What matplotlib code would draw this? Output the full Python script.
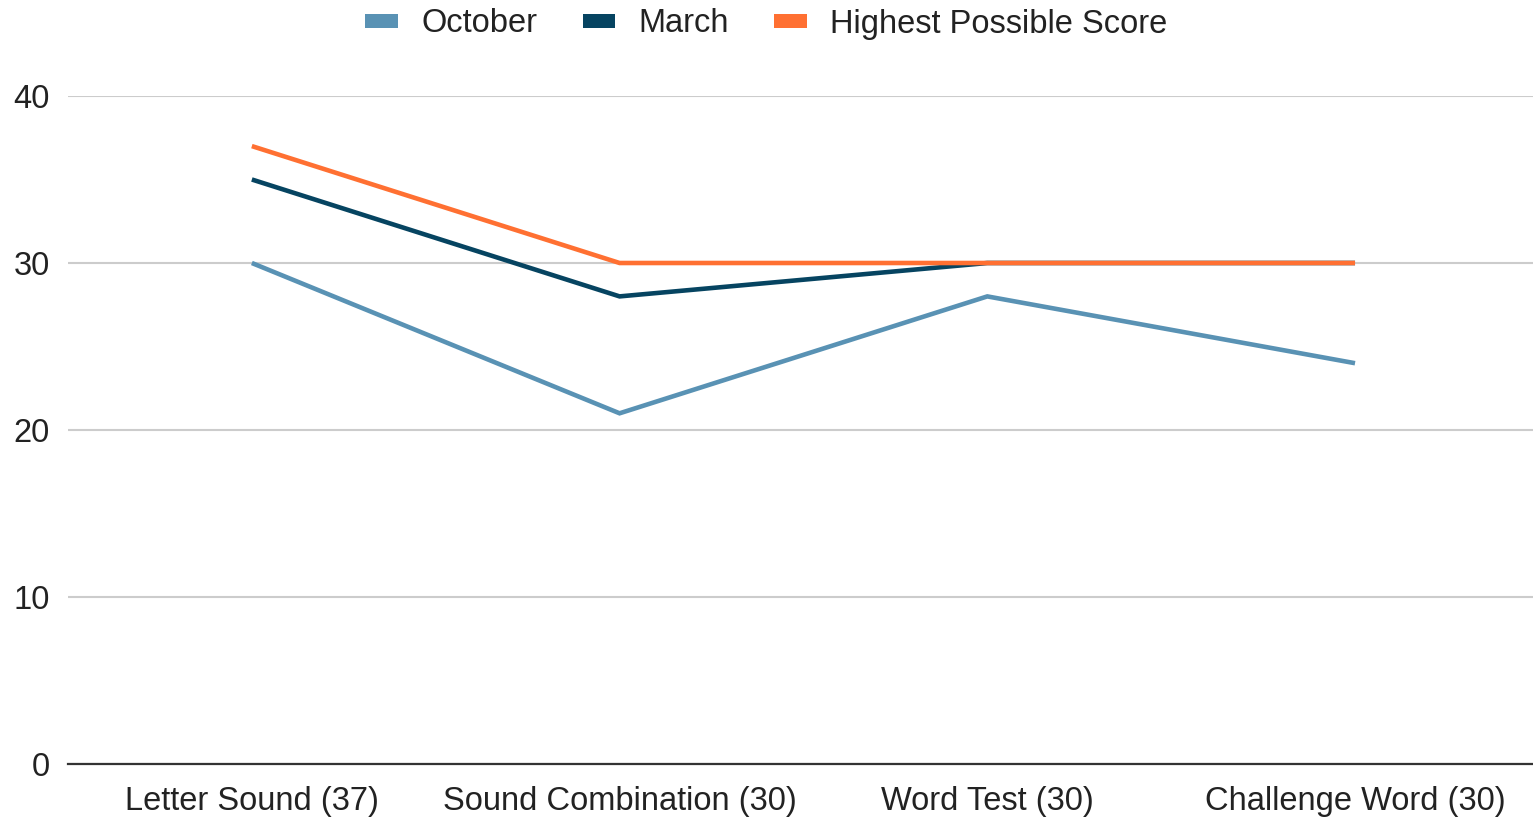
import matplotlib
matplotlib.use("Agg")
import matplotlib.pyplot as plt
from matplotlib.patches import Patch

categories = ["Letter Sound (37)", "Sound Combination (30)", "Word Test (30)", "Challenge Word (30)"]
october = [30, 21, 28, 24]
march = [35, 28, 30, 30]
highest = [37, 30, 30, 30]
series_names = ["October", "March", "Highest Possible Score"]
colors = ["#5992B4", "#064461", "#FF7032"]
yticks = [0, 10, 20, 30, 40]

plt.rcParams['font.family'] = ['Liberation Sans', 'DejaVu Sans']

fig = plt.figure(figsize=(15.33, 8.18), dpi=100)
ax = fig.add_axes([68/1533, (818-764)/818, 1 - 68/1533, (764-96)/818])

x = list(range(len(categories)))
for vals, c in zip([october, march, highest], colors):
    ax.plot(x, vals, color=c, lw=3.3, solid_capstyle='butt', solid_joinstyle='miter', zorder=3)

ax.set_xlim(-0.5, 3.484)
ax.set_ylim(0, 40)
ax.set_yticks(yticks)
ax.set_xticks(x)
ax.set_xticklabels(categories)
ax.tick_params(axis='both', length=0, labelsize=23.5, colors='#222222')
ax.tick_params(axis='y', pad=13)
ax.tick_params(axis='x', pad=16)
ax.grid(axis='y', color='#cccccc', lw=1.5, zorder=0)
for s in ['top', 'right', 'left']:
    ax.spines[s].set_visible(False)
ax.spines['bottom'].set_color('#333333')
ax.spines['bottom'].set_linewidth(1.6)

handles = [Patch(facecolor=c, edgecolor='none') for c in colors]
fig.legend(handles, series_names, loc='center', bbox_to_anchor=(0.5, 1 - 24/818), ncol=3,
           frameon=False, fontsize=23.5, handlelength=1.0, handleheight=0.3, handletextpad=0.72,
           columnspacing=1.38, labelcolor='#222222')

fig.savefig("out.png", dpi=100)
